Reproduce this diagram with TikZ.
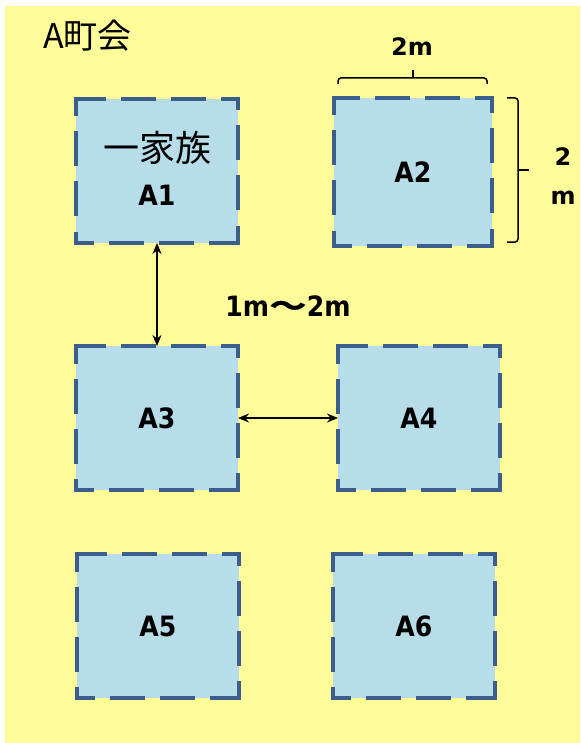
\documentclass[tikz,border=0pt]{standalone}
\usepackage{fontspec}
\setmainfont{DejaVu Sans}
\newfontfamily\labfont{DejaVu Sans}[FakeStretch=0.9]
\newfontfamily\cjk{Noto Sans CJK JP}
\usetikzlibrary{arrows.meta}
\definecolor{bgyellow}{HTML}{FFFC99}
\definecolor{boxblue}{HTML}{B7DDE8}
\definecolor{edgeblue}{HTML}{3B5E8C}
\newcommand\dashedge[1]{%
  \draw[edgeline] (#1.south west) -- (#1.south east)
    (#1.south east) -- (#1.north east)
    (#1.north east) -- (#1.north west)
    (#1.north west) -- (#1.south west);}
\begin{document}
\begin{tikzpicture}[x=1pt,y=-1pt,
  plotbox/.style={fill=boxblue, minimum width=162pt, minimum height=144pt,
    inner sep=0pt, outer sep=0pt,
    font=\labfont\fontsize{28}{32}\selectfont\bfseries},
  edgeline/.style={draw=edgeblue, line width=3.5pt, line cap=rect,
    dash pattern=on 31.5pt off 18.5pt, dash phase=15.75pt},
  lab/.style={inner sep=0pt, font=\labfont\fontsize{28}{32}\selectfont\bfseries},
  dimlab/.style={inner sep=0pt, font=\fontsize{24}{28}\selectfont\bfseries},
  dim/.style={line width=2.2pt, {Stealth[length=11pt,width=9pt]}-{Stealth[length=11pt,width=9pt]}},
  brk/.style={line width=1.5pt, rounded corners=3pt}]
\useasboundingbox (0,0) rectangle (580,743);
\fill[white] (0,0) rectangle (580,743);
\fill[bgyellow] (5,6) rectangle (580,743);

\node[anchor=west, inner sep=0pt, font=\cjk\fontsize{34}{38}\selectfont] (title) at (43,36) {A町会};

\node[plotbox] (A1) at (157,171) {};
\node[plotbox, minimum width=158pt, minimum height=148pt] (A2) at (413,172) {A2};
\node[plotbox] (A3) at (157,418) {A3};
\node[plotbox] (A4) at (419,418) {A4};
\node[plotbox] (A5) at (158,626) {A5};
\node[plotbox] (A6) at (414,626) {A6};
\dashedge{A1}
\dashedge{A2}
\dashedge{A3}
\dashedge{A4}
\dashedge{A5}
\dashedge{A6}
\node[inner sep=0pt, font=\cjk\fontsize{36}{40}\selectfont] (fam) at (157,148) {一家族};
\node[lab] (A1lab) at (157,195) {A1};

% dimension marks for A2
\draw[brk] (338,84) -- (338,78) -- (487,78) -- (487,84);
\draw[line width=1.5pt] (413,78) -- (413,70);
\node[dimlab] (w) at (412,47) {2m};
\draw[brk] (507,98) -- (518,98) -- (518,242) -- (507,242);
\draw[line width=1.5pt] (518,170) -- (529,170);
\node[dimlab] (h1) at (563,157) {2};
\node[dimlab] (h2) at (563,198) {m};

% spacing arrows
\draw[dim] (A1.south) -- (A3.north);
\draw[dim] (A3.east) -- (A4.west);
\node[lab] (gap) at (288,306) {1m\scalebox{1.35}[1]{\cjk ～}2m};
\end{tikzpicture}
\end{document}
